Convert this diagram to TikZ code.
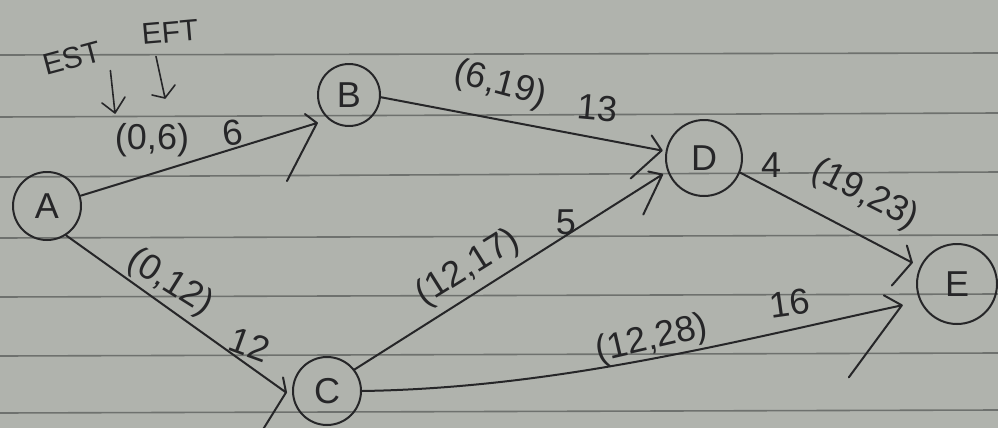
\documentclass[tikz,border=0pt]{standalone}
\usepackage{fontspec}
\setmainfont{Liberation Sans}
\usetikzlibrary{calc}
\definecolor{paper}{RGB}{176,179,173}
\definecolor{ruleln}{RGB}{110,113,110}
\definecolor{ink}{RGB}{38,38,40}
% from, to-anchor, shortening, upper barb offset, lower barb offset
\newcommand\myconn[5]{\draw[edgeln] (#1) -- ($(#2)!#3!(#1)$) coordinate (tp) ++(#4) -- (tp) -- ++(#5);}
\begin{document}
\begin{tikzpicture}[x=1pt,y=-1pt,line cap=round,line join=round,
  state/.style={circle,draw=ink,line width=2pt,inner sep=0pt,text=ink,font=\fontsize{36}{36}\selectfont},
  lbl/.style={text=ink,inner sep=1pt,font=\fontsize{36}{38}\selectfont},
  small/.style={text=ink,inner sep=1pt,font=\fontsize{30}{32}\selectfont},
  edgeln/.style={draw=ink,line width=2pt},
  thinln/.style={draw=ink,line width=1.6pt}]
\useasboundingbox (0,0) rectangle (998,428);
\fill[paper] (0,0) rectangle (998,428);
\foreach \ya/\yb in {55/53,117/113,177/172,238/235,297/294,356/353,413/410}
  \draw[ruleln,line width=1.6pt] (0,\ya) -- (998,\yb);

% states
\node[state,minimum size=68pt] (A) at (47,206) {A};
\node[state,minimum size=62pt] (B) at (349,95) {B};
\node[state,minimum size=76pt] (D) at (704,158) {D};
\node[state,minimum size=80pt] (E) at (957,284) {E};
\node[state,minimum size=68pt] (C) at (327,391) {C};

% activities
\myconn{A.17}{B.230}{12pt}{-12,-9}{-30,58}
\myconn{B.-4}{D.170}{4pt}{-10,-15}{-31,28}
\myconn{C.38}{D.200}{6pt}{-14,-3}{-19,40}
\myconn{D.-22}{E.155}{9pt}{-5,-17}{-20,23}
\myconn{A.-57}{C.190}{8pt}{-3,-15}{-23,37}
\draw[edgeln] (C.0) .. controls (560,388) and (740,340) .. ($(E.205)+(-18,4)$) coordinate (tp) ++(-18,-10) -- (tp) -- ++(-53,72);

% labels
\node[small,rotate=15] (est) at (72,58) {EST};
\node[small,rotate=5] (eft) at (170,32) {EFT};
\node[lbl] (l06) at (152,140) {(0,6)};
\coordinate (k1) at (115,113);
\coordinate (k2) at (165,98);
\draw[thinln] ($(est.south east)+(6,9)$) -- (k1) ++(-13,-10) -- (k1) -- ++(10,-16);
\draw[thinln] ($(eft.south)+(-15,13)$) -- (k2) ++(-13,-3) -- (k2) -- ++(10,-13);

\node[lbl,rotate=8] (w6) at (233,133) {6};
\node[lbl,rotate=-15] (l619) at (500,85) {(6,19)};
\node[lbl,rotate=-5] (w13) at (598,108) {13};
\node[lbl] (w4) at (771,165) {4};
\node[lbl,rotate=-27] (l1923) at (865,195) {(19,23)};
\node[lbl,rotate=-32] (l012) at (170,283) {(0,12)};
\node[lbl,rotate=-20] (w12) at (250,345) {12};
\node[lbl,rotate=32] (l1217) at (468,268) {(12,17)};
\node[lbl] (w5) at (566,222) {5};
\node[lbl,rotate=13] (l1228) at (652,340) {(12,28)};
\node[lbl,rotate=8] (w16) at (790,303) {16};
\end{tikzpicture}
\end{document}
